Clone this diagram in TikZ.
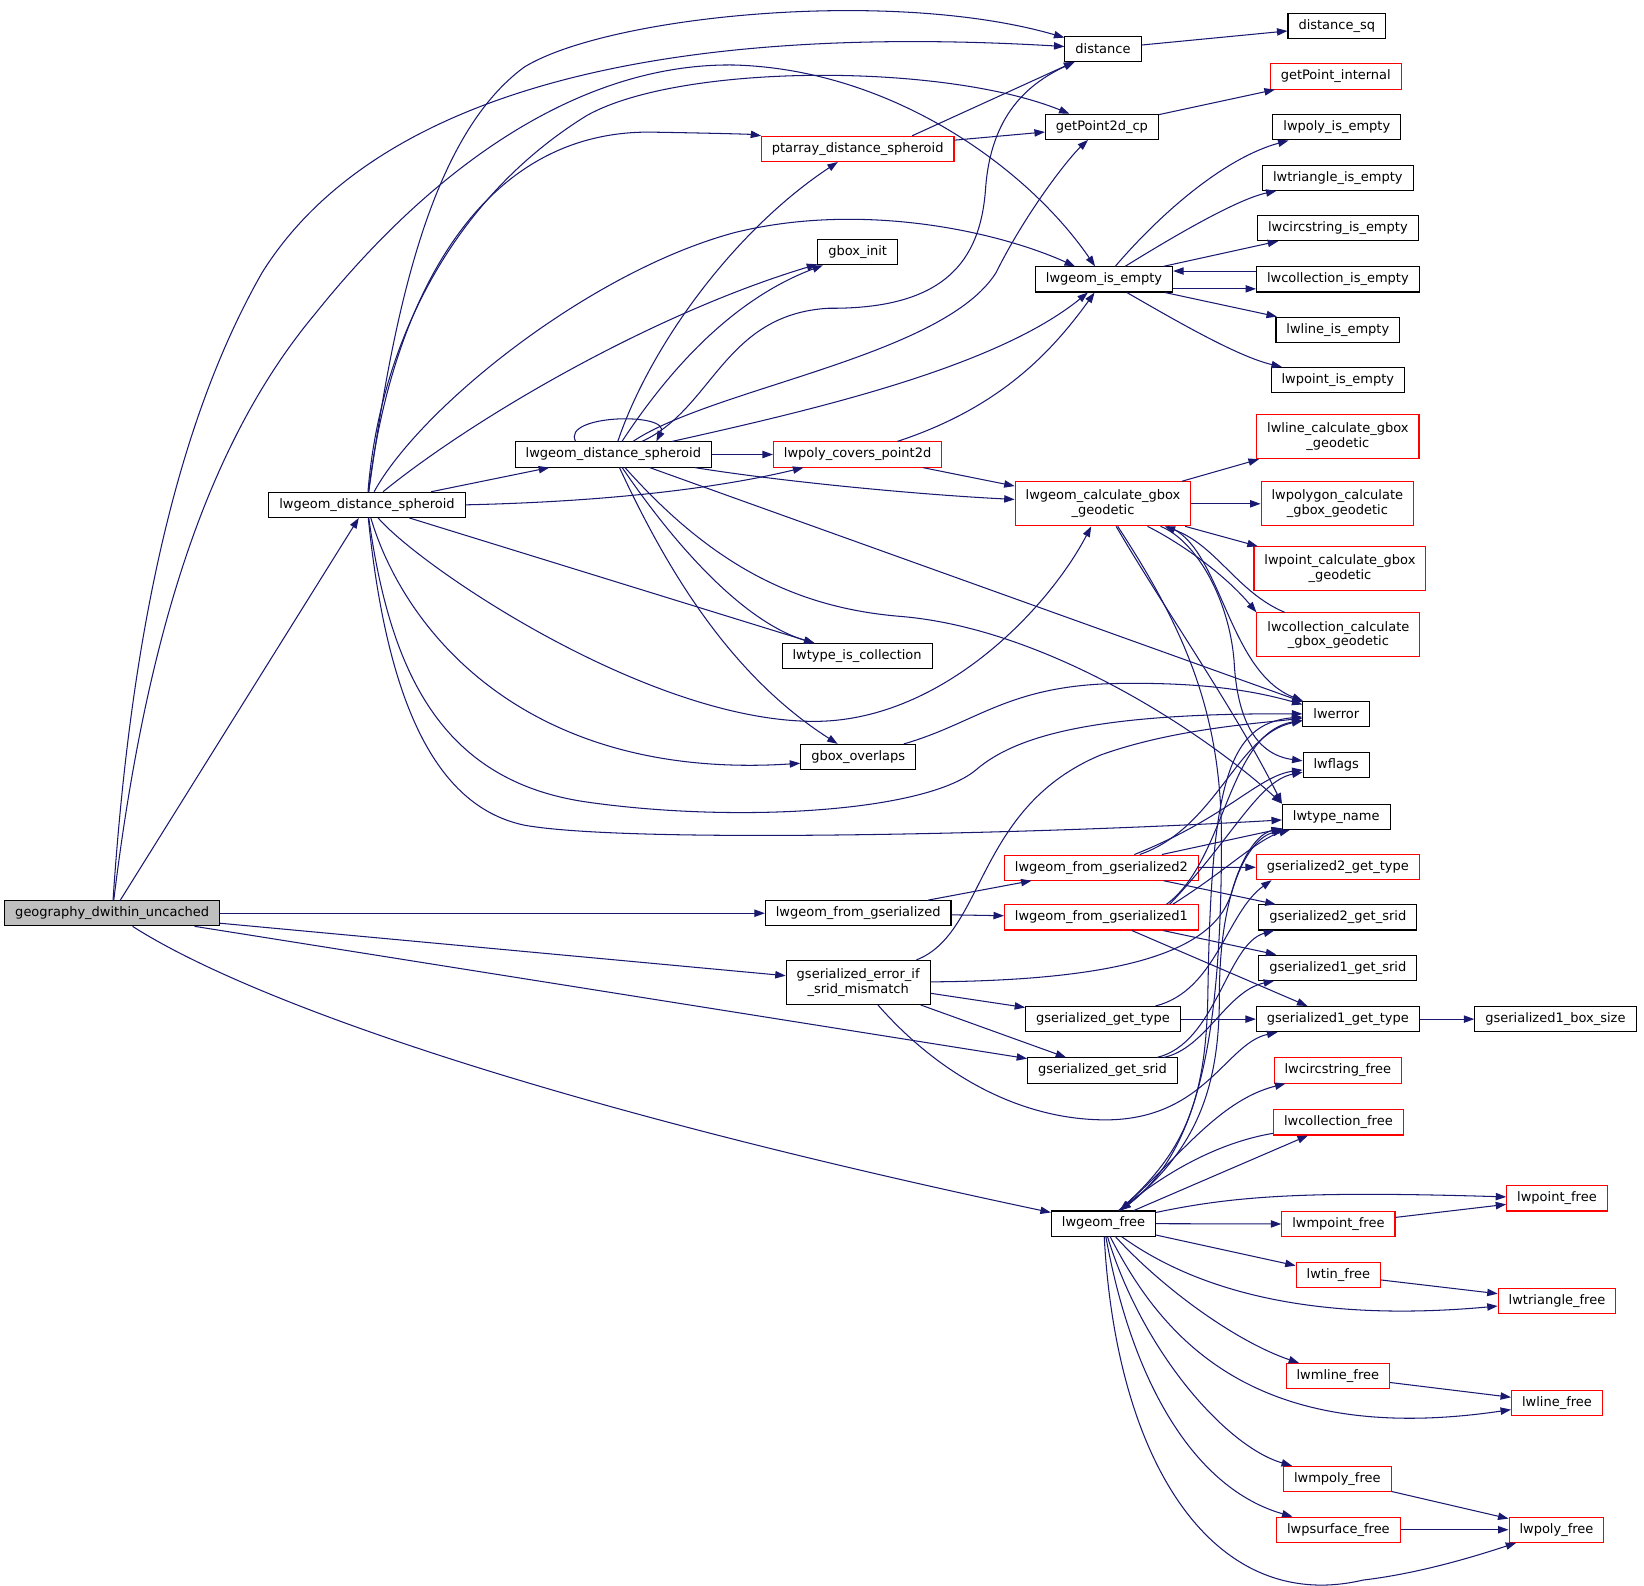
\documentclass[tikz,border=0pt]{standalone}
\usepackage{fontspec}
\setmainfont{DejaVu Sans}
\usetikzlibrary{arrows.meta}
\definecolor{navyline}{RGB}{25,25,112}
\definecolor{rootgray}{RGB}{191,191,191}

\begin{document}
\begin{tikzpicture}[x=1pt,y=-1pt,
  fn/.style={draw=black,line width=1pt,fill=white,inner xsep=10pt,inner ysep=0pt,minimum height=24pt,align=center,font=\fontsize{12.4}{13.8}\selectfont},
  fnred/.style={fn,draw=red},
  fnroot/.style={fn,fill=rootgray},
  fntwo/.style={minimum height=42pt},
  call/.style={draw=navyline,line width=1pt,-{Triangle[length=10pt,width=7pt]}}]
\useasboundingbox (0,0) rectangle (1568,1512);

% callers
\node[fnroot] (geo) at (107,871) {geography\_dwithin\_uncached};
\node[fn] (lds1) at (350,481.5) {lwgeom\_distance\_spheroid};
\node[fn] (lds2) at (585,433.5) {lwgeom\_distance\_spheroid};

% distance branch
\node[fn] (dist) at (1052,46.5) {distance};
\node[fn] (distsq) at (1275,25) {distance\_sq};
\node[fnred] (gpi) at (1274,73) {getPoint\_internal};
\node[fn] (gp2d) at (1051,121) {getPoint2d\_cp};
\node[fnred] (ptarr) at (818,142) {ptarray\_distance\_spheroid};
\node[fn] (gboxinit) at (818,240.5) {gbox\_init};

% emptiness tests
\node[fn] (isempty) at (1053,266.5) {lwgeom\_is\_empty};
\node[fn] (polyempty) at (1275,121.5) {lwpoly\_is\_empty};
\node[fn] (triempty) at (1276,169.5) {lwtriangle\_is\_empty};
\node[fn] (circempty) at (1276,217.5) {lwcircstring\_is\_empty};
\node[fn] (collempty) at (1276,266.5) {lwcollection\_is\_empty};
\node[fn] (lineempty) at (1276,314.5) {lwline\_is\_empty};
\node[fn] (pointempty) at (1276,362.5) {lwpoint\_is\_empty};

% bounding boxes
\node[fnred] (covers) at (818,433.5) {lwpoly\_covers\_point2d};
\node[fnred,fntwo] (calc) at (1052,480.5) {lwgeom\_calculate\_gbox\\\_geodetic};
\node[fnred,fntwo] (linecalc) at (1276,416.5) {lwline\_calculate\_gbox\\\_geodetic};
\node[fnred,fntwo] (polycalc) at (1275.5,480.5) {lwpolygon\_calculate\\\_gbox\_geodetic};
\node[fnred,fntwo] (pointcalc) at (1278,542.5) {lwpoint\_calculate\_gbox\\\_geodetic};
\node[fnred,fntwo] (collcalc) at (1276.5,605.5) {lwcollection\_calculate\\\_gbox\_geodetic};
\node[fn] (iscoll) at (817.5,626) {lwtype\_is\_collection};
\node[fn] (overlaps) at (818.5,722) {gbox\_overlaps};

% helpers
\node[fn] (lwerror) at (1274.5,681) {lwerror};
\node[fn] (lwflags) at (1274.5,730) {lwflags};
\node[fn] (typename) at (1274.5,779) {lwtype\_name};

% serialization
\node[fnred] (g2type) at (1276,827) {gserialized2\_get\_type};
\node[fn] (g2srid) at (1276,875) {gserialized2\_get\_srid};
\node[fn] (g1srid) at (1276,923) {gserialized1\_get\_srid};
\node[fn] (g1type) at (1276,972) {gserialized1\_get\_type};
\node[fn] (g1box) at (1483.5,972) {gserialized1\_box\_size};
\node[fnred] (fromg2) at (1050.5,827.5) {lwgeom\_from\_gserialized2};
\node[fn] (fromg) at (818.5,871) {lwgeom\_from\_gserialized};
\node[fnred] (fromg1) at (1050.5,875) {lwgeom\_from\_gserialized1};
\node[fn,fntwo] (errmis) at (818.5,937) {gserialized\_error\_if\\\_srid\_mismatch};
\node[fn] (gtype) at (1052,972) {gserialized\_get\_type};
\node[fn] (gsrid) at (1051.5,1021) {gserialized\_get\_srid};

% freeing
\node[fnred] (circfree) at (1276,1021) {lwcircstring\_free};
\node[fnred] (collfree) at (1276.5,1070.5) {lwcollection\_free};
\node[fnred] (pointfree) at (1485,1143) {lwpoint\_free};
\node[fn] (geomfree) at (1052.5,1167) {lwgeom\_free};
\node[fnred] (mpointfree) at (1276.5,1167.5) {lwmpoint\_free};
\node[fnred] (tinfree) at (1276.5,1216) {lwtin\_free};
\node[fnred] (trifree) at (1485,1240.5) {lwtriangle\_free};
\node[fnred] (mlinefree) at (1276,1312.5) {lwmline\_free};
\node[fnred] (linefree) at (1485,1338) {lwline\_free};
\node[fnred] (mpolyfree) at (1275.5,1410.5) {lwmpoly\_free};
\node[fnred] (psurffree) at (1276.5,1459) {lwpsurface\_free};
\node[fnred] (polyfree) at (1484.5,1459) {lwpoly\_free};

% geography_dwithin_uncached
\draw[call] (geo) -- (lds1);
\draw[call] (geo) .. controls (125,600) and (170,400) .. (250,260) .. controls (350,100) and (600,20) .. (dist);
\draw[call] (geo) .. controls (140,600) and (200,420) .. (300,300) .. controls (420,150) and (560,60) .. (700,62) .. controls (850,66) and (980,160) .. (isempty);
\draw[call] (geo) -- (fromg);
\draw[call] (geo) -- (errmis);
\draw[call] (geo) -- (gsrid);
\draw[call] (geo) .. controls (230,950) and (500,1050) .. (geomfree);

% lower lwgeom_distance_spheroid
\draw[call] (lds1) -- (lds2);
\draw[call] (lds1) .. controls (375,300) and (410,130) .. (500,64) .. controls (580,15) and (850,-12) .. (dist);
\draw[call] (lds1) .. controls (362,330) and (430,190) .. (560,110) .. controls (650,60) and (900,60) .. (gp2d);
\draw[call] (lds1) .. controls (372,300) and (450,125) .. (620,126) .. controls (680,127) and (715,128) .. (ptarr);
\draw[call] (lds1) .. controls (400,390) and (560,260) .. (700,222) .. controls (820,192) and (950,220) .. (isempty);
\draw[call] (lds1) .. controls (450,400) and (620,300) .. (gboxinit);
\draw[call] (lds1.east) .. controls (600,478) and (700,462) .. (covers);
\draw[call] (lds1) -- (iscoll);
\draw[call] (lds1) .. controls (385,600) and (500,745) .. ([yshift=-6pt]overlaps.west);
\draw[call] (lds1) .. controls (400,540) and (620,690) .. (780,688) .. controls (900,686) and (1000,580) .. (calc);
\draw[call] (lds1) .. controls (372,640) and (420,745) .. (560,765) .. controls (700,785) and (880,775) .. (930,735) .. controls (970,700) and (1050,680) .. (lwerror);
\draw[call] (lds1) .. controls (370,680) and (420,770) .. (500,787) .. controls (600,805) and (1000,795) .. (typename);

% upper lwgeom_distance_spheroid
\draw[call] ([xshift=-36pt]lds2.north) .. controls (535,395) and (640,393) .. ([xshift=41pt]lds2.north);
\draw[call] (lds2) .. controls (620,330) and (700,220) .. (ptarr);
\draw[call] (lds2) .. controls (640,350) and (700,285) .. (gboxinit);
\draw[call] (lds2) .. controls (680,390) and (690,300) .. (790,294) .. controls (900,295) and (935,250) .. (940,180) .. controls (945,110) and (980,80) .. (dist);
\draw[call] (lds2) .. controls (680,370) and (900,340) .. (950,260) .. controls (980,200) and (1020,150) .. (gp2d);
\draw[call] (lds2) .. controls (780,390) and (950,350) .. (isempty);
\draw[call] (lds2) -- (covers);
\draw[call] (lds2) .. controls (750,460) and (880,472) .. (calc);
\draw[call] (lds2) .. controls (630,500) and (700,590) .. (iscoll);
\draw[call] (lds2) .. controls (630,530) and (690,640) .. (overlaps);
\draw[call] (lds2) -- (lwerror);
\draw[call] (lds2) .. controls (680,540) and (760,580) .. (860,588) .. controls (1000,600) and (1150,700) .. (typename.north west);

% ptarray_distance_spheroid, distance, getPoint2d_cp
\draw[call] ([xshift=52pt]ptarr.north) -- (dist);
\draw[call] (ptarr) -- (gp2d);
\draw[call] (dist) -- (distsq);
\draw[call] (gp2d) -- (gpi);

% lwgeom_is_empty
\draw[call] (isempty) .. controls (1110,200) and (1170,150) .. (polyempty);
\draw[call] (isempty) .. controls (1120,225) and (1180,190) .. (triempty);
\draw[call] (isempty) -- (circempty);
\draw[call] ([yshift=-9pt]isempty.east) -- ([yshift=-9pt]collempty.west);
\draw[call] ([yshift=8pt]collempty.west) -- ([yshift=8pt]isempty.east);
\draw[call] (isempty) -- (lineempty);
\draw[call] (isempty) .. controls (1120,305) and (1180,340) .. (pointempty);

% lwpoly_covers_point2d
\draw[call] (covers) .. controls (950,390) and (1000,340) .. (isempty);
\draw[call] (covers) -- (calc);

% lwgeom_calculate_gbox_geodetic
\draw[call] (calc) -- (linecalc);
\draw[call] (calc) -- (polycalc);
\draw[call] (calc) -- (pointcalc);
\draw[call] (calc) .. controls (1130,520) and (1170,550) .. (collcalc.north west);
\draw[call] (collcalc) .. controls (1180,565) and (1160,520) .. (calc);
\draw[call] (calc) .. controls (1165,520) and (1170,640) .. (lwerror);
\draw[call] (calc) .. controls (1140,515) and (1172,570) .. (1177,630) .. controls (1180,690) and (1200,720) .. (lwflags);
\draw[call] (calc) .. controls (1110,580) and (1180,680) .. (typename.north west);
\draw[call] (calc) .. controls (1130,600) and (1165,680) .. (1165,800) .. controls (1165,1000) and (1140,1100) .. (geomfree);

% gbox_overlaps
\draw[call] (overlaps) .. controls (930,690) and (960,655) .. (1060,652) .. controls (1150,650) and (1200,660) .. (lwerror);

% lwgeom_from_gserialized
\draw[call] (fromg) -- (fromg2);
\draw[call] (fromg) -- (fromg1);
\draw[call] (fromg2) .. controls (1160,790) and (1180,700) .. (lwerror);
\draw[call] (fromg2) .. controls (1170,780) and (1200,740) .. (lwflags);
\draw[call] (fromg2) -- (typename);
\draw[call] (fromg2) -- (g2type);
\draw[call] (fromg2) -- (g2srid);
\draw[call] ([xshift=62pt]fromg1.north) .. controls (1170,820) and (1170,700) .. (lwerror);
\draw[call] ([xshift=65pt]fromg1.north) .. controls (1175,800) and (1200,745) .. (lwflags);
\draw[call] ([xshift=68pt]fromg1.north) .. controls (1170,830) and (1200,800) .. (typename);
\draw[call] (fromg1) -- (g1srid);
\draw[call] (fromg1) -- (g1type);

% gserialized_error_if_srid_mismatch
\draw[call] (errmis) .. controls (940,890) and (930,770) .. (1050,720) .. controls (1120,695) and (1200,690) .. (lwerror);
\draw[call] (errmis) .. controls (1080,935) and (1160,905) .. (1175,850) .. controls (1185,815) and (1200,795) .. (typename);
\draw[call] (errmis) -- (gtype);
\draw[call] (errmis) -- (gsrid);
\draw[call] (errmis) .. controls (900,1030) and (980,1070) .. (1060,1068) .. controls (1150,1065) and (1170,995) .. (g1type);

% gserialized_get_type, gserialized_get_srid
\draw[call] (gtype) -- (g1type);
\draw[call] (gtype) .. controls (1160,945) and (1170,870) .. ([xshift=15pt]g2type.south west);
\draw[call] (gsrid) .. controls (1150,1000) and (1170,945) .. ([xshift=15pt]g1srid.south west);
\draw[call] (gsrid) .. controls (1160,995) and (1170,900) .. ([xshift=15pt]g2srid.south west);
\draw[call] (g1type) -- (g1box);

% lwgeom_free
\draw[call] (geomfree) .. controls (1120,1110) and (1160,1050) .. (circfree);
\draw[call] (geomfree) -- (collfree);
\draw[call] (collfree) .. controls (1160,1090) and (1110,1120) .. (geomfree);
\draw[call] (geomfree) .. controls (1180,1140) and (1250,1136) .. (pointfree);
\draw[call] (geomfree) -- (mpointfree);
\draw[call] (mpointfree) -- (pointfree);
\draw[call] (geomfree) -- (tinfree);
\draw[call] (tinfree) -- (trifree);
\draw[call] (geomfree) .. controls (1140,1230) and (1250,1262) .. (trifree);
\draw[call] (geomfree) .. controls (1110,1230) and (1180,1280) .. (mlinefree);
\draw[call] (mlinefree) -- (linefree);
\draw[call] (geomfree) .. controls (1110,1280) and (1200,1380) .. (linefree);
\draw[call] (geomfree) .. controls (1090,1290) and (1170,1380) .. (mpolyfree);
\draw[call] (mpolyfree) -- (polyfree);
\draw[call] (geomfree) .. controls (1080,1320) and (1140,1420) .. (psurffree);
\draw[call] (psurffree) -- (polyfree);
\draw[call] (geomfree) .. controls (1065,1400) and (1160,1540) .. (1300,1507) .. controls (1360,1500) and (1420,1480) .. (polyfree);
\draw[call] (geomfree) .. controls (1130,1100) and (1150,1050) .. (1152,950) .. controls (1155,750) and (1170,690) .. (lwerror);
\draw[call] (geomfree) .. controls (1140,1100) and (1163,1040) .. (1163,950) .. controls (1163,850) and (1190,800) .. (typename);
\end{tikzpicture}
\end{document}
